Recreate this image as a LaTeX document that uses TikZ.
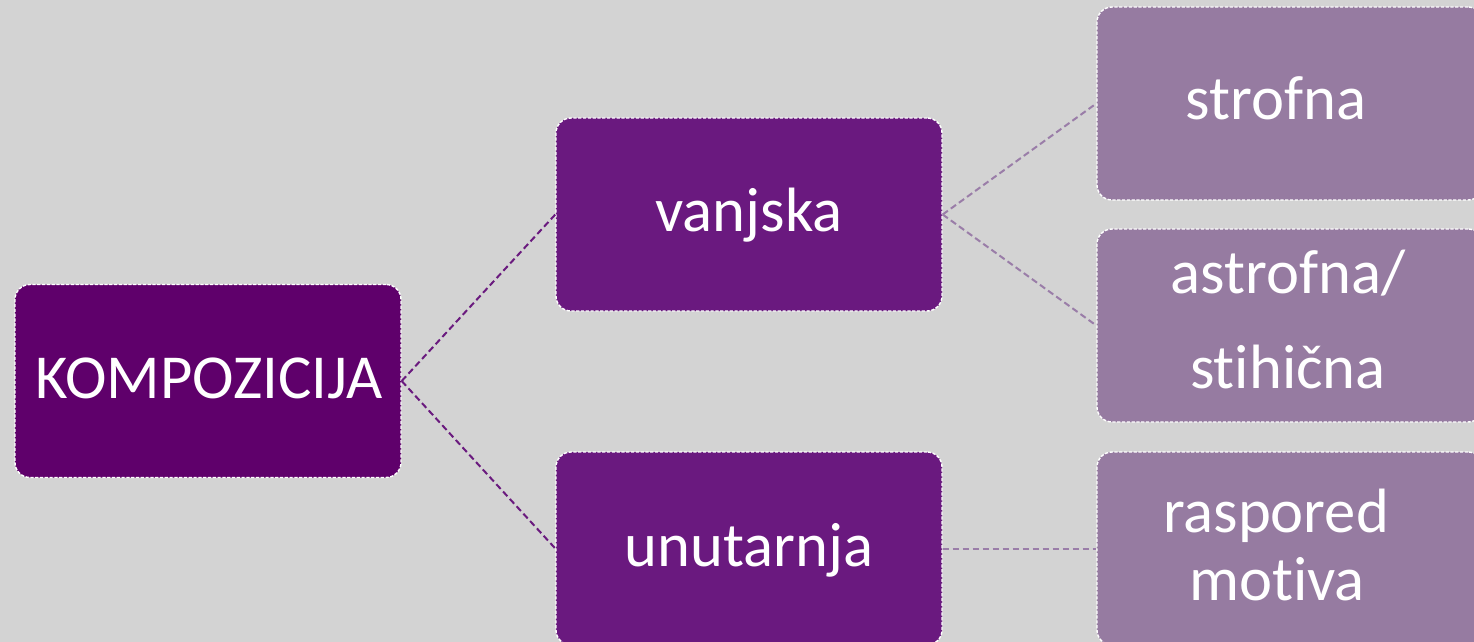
\documentclass[tikz,border=0pt]{standalone}
\usepackage{fontspec}
\setmainfont[Ligatures={NoCommon,NoRequired,NoContextual}]{Carlito}
\definecolor{bg}{HTML}{D3D3D3}
\definecolor{lvlone}{HTML}{5F006B}
\definecolor{lvltwo}{HTML}{6A197F}
\definecolor{lvlthree}{HTML}{967BA1}
\definecolor{linkone}{HTML}{6A1A7E}
\definecolor{linktwo}{HTML}{9A7DA8}
\tikzset{
  box/.style={minimum width=193pt, minimum height=96.5pt, inner sep=0pt,
    rounded corners=7.5pt, draw=white, line width=0.7pt,
    dash pattern=on 1.6pt off 0.8pt},
  boxone/.style={box, fill=lvlone},
  boxtwo/.style={box, fill=lvltwo},
  boxthree/.style={box, fill=lvlthree},
  lbl/.style={anchor=base, inner sep=0pt, text=white,
    font=\fontsize{31.3}{31.3}\selectfont},
  linkA/.style={draw=linkone, line width=1pt, dash pattern=on 3.2pt off 1.8pt},
  linkB/.style={draw=linktwo, line width=1pt, dash pattern=on 3.2pt off 1.8pt},
}
\begin{document}
\begin{tikzpicture}[x=0.5pt, y=-0.5pt]
\useasboundingbox (0,0) rectangle (1474,642);
\clip (0,0) rectangle (1474,642);
\fill[bg] (0,0) rectangle (1474,642);

\node[boxone] (komp) at (208,381) {};
\node[boxtwo] (vanj) at (749,214.5) {};
\node[boxtwo] (unut) at (749,548.5) {};
\node[boxthree] (strof) at (1290,103.5) {};
\node[boxthree] (astro) at (1290,325.5) {};
\node[boxthree] (rasp) at (1290,548.5) {};

\node[lbl] (kompT) at (209,398) {KOMPOZICIJA};
\node[lbl] (vanjT) at (749,231.5) {vanjska};
\node[lbl] (unutT) at (749,566) {unutarnja};
\node[lbl] (strofT) at (1276,120) {strofna};
\node[lbl] (astroT1) at (1288,293) {astrofna/};
\node[lbl] (astroT2) at (1288,388) {stihična};
\node[lbl] (raspT1) at (1276,532) {raspored};
\node[lbl] (raspT2) at (1277,600) {motiva};

\draw[linkA] (komp.east) -- (vanj.west);
\draw[linkA] (komp.east) -- (unut.west);
\draw[linkB] (vanj.east) -- (strof.west);
\draw[linkB] (vanj.east) -- (astro.west);
\draw[linkB] (unut.east) -- (rasp.west);
\end{tikzpicture}
\end{document}
